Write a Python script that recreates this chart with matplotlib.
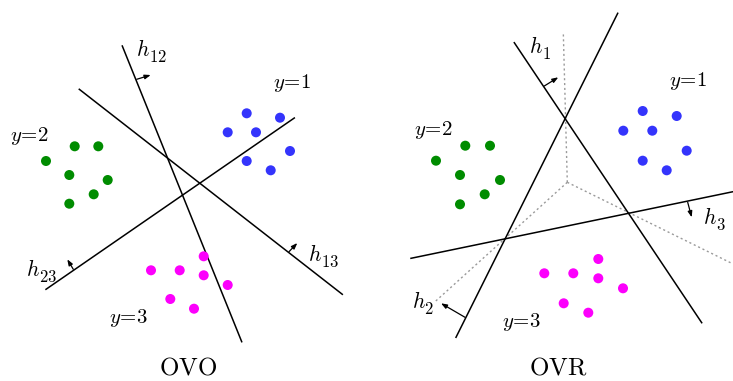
import matplotlib
matplotlib.use("Agg")
import matplotlib.pyplot as plt

plt.rcParams["mathtext.fontset"] = "cm"
plt.rcParams["font.family"] = ["DejaVu Serif"]

W, H = 733, 381

# --- class clusters (pixel coordinates, y downwards) ---
ovo_blue_x = [246.7, 280.0, 227.7, 256.0, 290.0, 246.7, 270.7]
ovo_blue_y = [113.3, 117.7, 132.3, 132.3, 151.0, 161.0, 170.3]
ovo_green_x = [74.7, 98.3, 46.0, 69.3, 107.7, 93.7, 69.3]
ovo_green_y = [146.3, 146.3, 161.0, 175.0, 180.0, 194.3, 203.7]
ovo_mag_x = [203.7, 151.0, 179.7, 203.7, 227.7, 170.3, 194.0]
ovo_mag_y = [256.3, 270.3, 270.3, 275.3, 285.0, 299.0, 308.7]

ovr_blue_x = [642.7, 676.7, 623.3, 652.3, 686.7, 642.7, 666.7]
ovr_blue_y = [111.0, 116.0, 130.7, 130.7, 150.7, 160.7, 170.3]
ovr_green_x = [465.3, 490.0, 436.0, 460.0, 500.0, 484.7, 460.0]
ovr_green_y = [145.7, 145.7, 160.7, 175.0, 180.0, 194.3, 204.3]
ovr_mag_x = [598.3, 544.3, 573.3, 598.3, 623.0, 563.7, 588.3]
ovr_mag_y = [259.0, 273.3, 273.3, 278.3, 288.3, 303.3, 312.7]

# --- separating hyperplanes: (x0, y0, x1, y1) ---
ovo_lines = {
    "h12": (122.3, 46.0, 241.7, 341.7),
    "h13": (79.3, 89.3, 342.3, 294.3),
    "h23": (46.0, 289.3, 294.3, 118.0),
}
ovr_lines = {
    "h1": (514.3, 42.7, 701.7, 322.7),
    "h2": (456.0, 337.3, 617.7, 13.3),
    "h3": (411.0, 258.3, 733.0, 191.7),
}
# dotted region boundaries from a common junction
junction = (567.3, 182.3)
dotted_ends = [(563.3, 32.3), (435.0, 301.7), (731.7, 263.3)]

# normal arrows: (tail x, tail y, head x, head y)
arrows = [
    (136.7, 79.3, 150.7, 75.0),
    (289.0, 251.7, 297.3, 243.0),
    (73.3, 269.3, 67.3, 259.3),
    (544.3, 86.0, 558.3, 77.3),
    (687.7, 202.3, 691.7, 217.3),
    (465.0, 317.3, 441.0, 303.3),
]

# hyperplane labels: (left x, baseline y, subscript)
h_labels = [
    (136.5, 56, "12"),
    (308, 261, "13"),
    (26, 276, "23"),
    (529, 53, "1"),
    (703, 224, "3"),
    (411.5, 308, "2"),
]
# class labels: (centre x, centre y, class)
y_labels = [
    (292, 83, "1"), (29, 136, "2"), (129, 318, "3"),
    (688, 81, "1"), (433, 130, "2"), (522, 322, "3"),
]
titles = [(188, 368, "OVO"), (558, 368, "OVR")]

BLUE, GREEN, MAGENTA = "#3434fc", "#008c00", "#fc00fc"

fig = plt.figure(figsize=(W / 100, H / 100), dpi=100)
ax = fig.add_axes([0, 0, 1, 1])
ax.set_xlim(0, W)
ax.set_ylim(H, 0)
ax.axis("off")

for (x0, y0, x1, y1) in list(ovo_lines.values()) + list(ovr_lines.values()):
    ax.plot([x0, x1], [y0, y1], color="black", lw=1.1, zorder=2)

for (ex, ey) in dotted_ends:
    ax.plot([junction[0], ex], [junction[1], ey], color="#9a9a9a", lw=1.0,
            ls=(0, (1.5, 2)), zorder=1)

for (tx, ty, hx, hy) in arrows:
    ax.annotate("", xy=(hx, hy), xytext=(tx, ty),
                arrowprops=dict(arrowstyle="-|>,head_length=0.35,head_width=0.13",
                                color="black", lw=0.9, shrinkA=0, shrinkB=0))

ms = 52
for xs, ys, c in [(ovo_blue_x, ovo_blue_y, BLUE), (ovo_green_x, ovo_green_y, GREEN),
                  (ovo_mag_x, ovo_mag_y, MAGENTA), (ovr_blue_x, ovr_blue_y, BLUE),
                  (ovr_green_x, ovr_green_y, GREEN), (ovr_mag_x, ovr_mag_y, MAGENTA)]:
    ax.scatter(xs, ys, s=ms, color=c, edgecolors="none", zorder=3)

for (x, y, sub) in h_labels:
    ax.text(x, y, r"$h$", fontsize=15.5, ha="left", va="baseline", zorder=4)
    ax.annotate(r"$\mathit{%s}$" % sub, xy=(x, y), xytext=(12.8, -6),
                textcoords="offset pixels", fontsize=12,
                ha="left", va="baseline", zorder=4)

for (x, y, k) in y_labels:
    ax.text(x, y, r"$y\!=\!%s$" % k, fontsize=15, ha="center", va="center", zorder=4)

for (x, y, t) in titles:
    ax.text(x, y, r"$\mathrm{%s}$" % t, fontsize=18, ha="center", va="center")

fig.savefig("out.png", dpi=100)
